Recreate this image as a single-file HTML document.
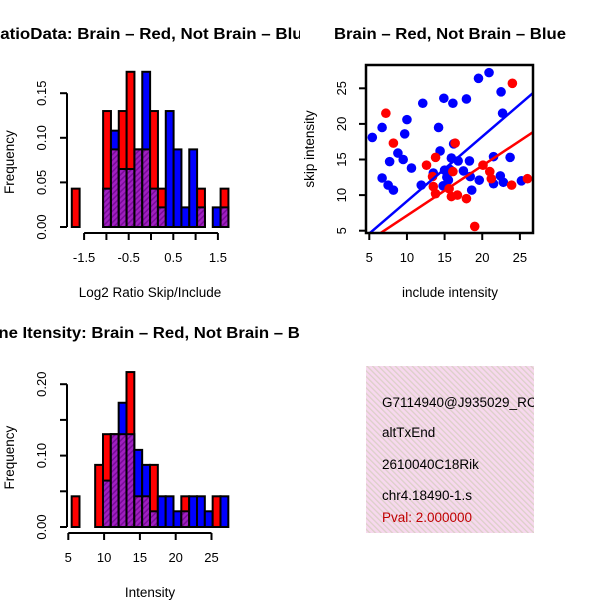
<!DOCTYPE html>
<html><head><meta charset="utf-8"><style>
html,body{margin:0;padding:0;background:#fff}
svg{display:block;font-family:"Liberation Sans",sans-serif}
</style></head><body>
<svg id="s" width="600" height="600" viewBox="0 0 600 600" xmlns="http://www.w3.org/2000/svg">
<defs>
<pattern id="hp" width="4" height="4" patternUnits="userSpaceOnUse" patternTransform="rotate(45)">
<rect width="4" height="4" fill="#a020c0"/><rect width="1.5" height="4" fill="#7a0a9a"/></pattern>
<pattern id="pk" width="4" height="4" patternUnits="userSpaceOnUse" patternTransform="rotate(-45)">
<rect width="4" height="4" fill="#f7d8ee"/><rect width="1.3" height="4" fill="#dcd0c8"/></pattern>
<clipPath id="sc"><rect x="366" y="65" width="167" height="168"/></clipPath>
<clipPath id="leftclip"><rect x="0" y="0" width="300" height="600"/></clipPath>
</defs>
<g id="g1"></g>
<g id="g2"></g>
<g id="g3"></g>
<g>
<rect x="366" y="366" width="168" height="167" fill="url(#pk)"/>
<svg x="366" y="366" width="168" height="167" overflow="hidden">
<text x="16" y="41" font-size="13.5">G7114940@J935029_RC</text>
<text x="16" y="71" font-size="13.5">altTxEnd</text>
<text x="16" y="103" font-size="13.5">2610040C18Rik</text>
<text x="16" y="134" font-size="13.5">chr4.18490-1.s</text>
<text x="16" y="156" font-size="13.5" fill="#c00000">Pval: 2.000000</text>
</svg></g>
</svg>
<script>
// Histogram 1 (log2 ratio)
const ratioRed  = [0.043,0,0,0,0.13,0.087,0.13,0.174,0.087,0.087,0.13,0.043,0,0,0,0,0.043,0,0,0.043];
const ratioBlue = [0,0,0,0,0.043,0.108,0.065,0.065,0.087,0.174,0.043,0.022,0.13,0.087,0.022,0.087,0.022,0,0.022,0.022];
const ratioStart = -1.776, ratioBin = 0.1756;
const ratioXTicks = [-1.5,-1,-0.5,0,0.5,1,1.5];
const ratioXLabels = ["-1.5","-0.5","0.5","1.5"];
const ratioYTicks = [0,0.05,0.10,0.15];
const ratioYLabels = ["0.00","0.05","0.10","0.15"];
// Histogram 2 (intensity)
const intRed  = [0.043,0,0,0.087,0.13,0.13,0.13,0.217,0.043,0.043,0.087,0,0,0,0.043,0,0,0,0.043,0];
const intBlue = [0,0,0,0,0.065,0.13,0.174,0.13,0.108,0.087,0.022,0.043,0.043,0.022,0.022,0.043,0.043,0.022,0,0.043];
const intStart = 5.47, intBin = 1.094;
const intXTicks = [5,10,15,20,25];
const intYTicks = [0,0.05,0.10,0.15,0.20];
const intYLabels = ["0.00","","0.10","","0.20"];
// Scatter
const blueX = [5.4,6.7,6.7,7.5,8.2,7.7,8.8,9.5,10.0,9.7,10.6,11.9,12.1,13.5,14.2,14.4,14.9,14.8,15.0,15.3,15.7,15.5,16.1,15.9,16.2,16.8,17.5,17.9,18.3,18.4,18.6,19.6,19.5,20.9,21.5,21.5,22.5,22.7,22.4,22.8,23.7,25.2];
const blueY = [18.1,19.5,12.4,11.4,10.7,14.7,15.9,15.0,20.6,18.6,13.8,11.4,22.9,13.1,19.5,16.2,23.6,11.3,13.5,12.5,13.6,12.1,22.9,15.2,17.2,14.8,13.4,23.5,14.8,12.6,10.7,12.1,26.4,27.2,15.4,11.6,24.5,21.5,12.7,11.8,15.3,12.0];
const redX = [7.2,8.2,12.6,13.8,13.4,13.5,13.8,15.6,16.1,16.4,15.9,16.7,17.9,19.0,20.1,21.0,21.2,23.9,24.0,26.0];
const redY = [21.5,17.3,14.2,15.3,12.6,11.2,10.2,10.9,13.3,17.3,9.8,10.0,9.5,5.6,14.2,13.3,12.3,11.4,25.7,12.3];
const blueFit = [0.06,0.908]; // intercept, slope
const redFit = [0.12,0.70];
const scXTicks = [5,10,15,20,25];
const scYTicks = [5,10,15,20,25];

const NS="http://www.w3.org/2000/svg";
function mk(p,t,a){const e=document.createElementNS(NS,t);for(const k in a)e.setAttribute(k,a[k]);p.appendChild(e);return e;}
function txt(p,x,y,s,size,rot,anchor,bold){const e=mk(p,'text',{x:x,y:y,'font-size':size,'text-anchor':anchor||'middle'});if(rot)e.setAttribute('transform','rotate(-90 '+x+' '+y+')');if(bold)e.setAttribute('font-weight','bold');e.textContent=s;return e;}

function hist(g,red,blue,start,bin,xs,y0,yscale,xTicks,xLabels,yTicks,yLabels,xAxisY,xlab,title,titleY,titleLen){
  const X=v=>xs(v), Y=v=>y0-v*yscale;
  for(let i=0;i<red.length;i++){
    const x0=X(start+i*bin), x1=X(start+(i+1)*bin), w=x1-x0;
    const r=red[i], b=blue[i], mn=Math.min(r,b), mx=Math.max(r,b);
    if(mx<=0) continue;
    const top=mk(g,'rect',{x:x0,y:Y(mx),width:w,height:Y(0)-Y(mx),fill:r>=b?'#ff0000':'#0000ff',stroke:'#000','stroke-width':2});
    
    
    if(mn>0){const ov=mk(g,'rect',{x:x0,y:Y(mn),width:w,height:Y(0)-Y(mn),fill:'url(#hp)',stroke:'#000','stroke-width':2});
      
      }
  }
  const ya=mk(g,'g',{});
  
  
  mk(ya,'line',{x1:67,x2:67,y1:Y(yTicks[yTicks.length-1]),y2:Y(0),stroke:'#000','stroke-width':2});
  yTicks.forEach((t,i)=>{mk(ya,'line',{x1:60,x2:67,y1:Y(t),y2:Y(t),stroke:'#000','stroke-width':2});
    if(yLabels[i]) txt(ya,46,Y(t),yLabels[i],13,true);});
  txt(ya,14,(Y(0)+Y(yTicks[yTicks.length-1]))/2+2,'Frequency',13.5,true);
  const xa=mk(g,'g',{});
  
  
  mk(xa,'line',{x1:X(xTicks[0]),x2:X(xTicks[xTicks.length-1]),y1:xAxisY,y2:xAxisY,stroke:'#000','stroke-width':2});
  xTicks.forEach(t=>{mk(xa,'line',{x1:X(t),x2:X(t),y1:xAxisY,y2:xAxisY+7,stroke:'#000','stroke-width':2});});
  xLabels.forEach(l=>txt(xa,X(parseFloat(l)),xAxisY+29,l,13));
  txt(xa,150,xAxisY+64,xlab,13.5);
  const tg=mk(g,'g',{'clip-path':'url(#leftclip)'});
  const tt=txt(tg,150,titleY,title,16,false,'middle',true);
  tt.setAttribute('textLength',titleLen);
  tt.setAttribute('lengthAdjust','spacingAndGlyphs');
  
}
const g1=document.getElementById('g1');
hist(g1,ratioRed,ratioBlue,ratioStart,ratioBin,v=>151+v*44.6,227,892,ratioXTicks,ratioXLabels,ratioYTicks,ratioYLabels,233,'Log2 Ratio Skip/Include','RatioData: Brain – Red, Not Brain – Blue',39,324);
const g3=document.getElementById('g3');
hist(g3,intRed,intBlue,intStart,intBin,v=>68.3+(v-5)*7.16,527,714,intXTicks,intXTicks.map(String),intYTicks,intYLabels,533,'Intensity','Gene Itensity: Brain – Red, Not Brain – Blue',338,348);

const g2=document.getElementById('g2');
const SX=v=>369.3+(v-5)*7.53, SY=v=>230.7-(v-5)*7.12;
const pts=mk(g2,'g',{'clip-path':'url(#sc)'});
function fit(f,col,name){const xa=3,xb=28;const l=mk(pts,'line',{x1:SX(xa),y1:SY(f[0]+f[1]*xa),x2:SX(xb),y2:SY(f[0]+f[1]*xb),stroke:col,'stroke-width':2.5});
  
  }
blueX.forEach((x,i)=>{const c=mk(pts,'circle',{cx:SX(x),cy:SY(blueY[i]),r:4.8,fill:'#0000ff'});
  
  });
redX.forEach((x,i)=>{const c=mk(pts,'circle',{cx:SX(x),cy:SY(redY[i]),r:4.8,fill:'#ff0000'});
  
  });
fit(blueFit,'#0000ff','blue-fit-line');fit(redFit,'#ff0000','red-fit-line');
const fr=mk(g2,'rect',{x:366,y:65,width:167,height:168,fill:'none',stroke:'#000','stroke-width':2.5});


scXTicks.forEach(t=>{mk(g2,'line',{x1:SX(t),x2:SX(t),y1:233,y2:240,stroke:'#000','stroke-width':2});txt(g2,SX(t),262,String(t),13);});
scYTicks.forEach(t=>{mk(g2,'line',{x1:359,x2:366,y1:SY(t),y2:SY(t),stroke:'#000','stroke-width':2});txt(g2,346,SY(t),String(t),13,true);});
txt(g2,314,149,'skip intensity',13.5,true);
txt(g2,450,297,'include intensity',13.5);
const t2=txt(g2,450,39,'Brain – Red, Not Brain – Blue',16,false,'middle',true);
t2.setAttribute('textLength',232);
t2.setAttribute('lengthAdjust','spacingAndGlyphs');

</script>
</body></html>
